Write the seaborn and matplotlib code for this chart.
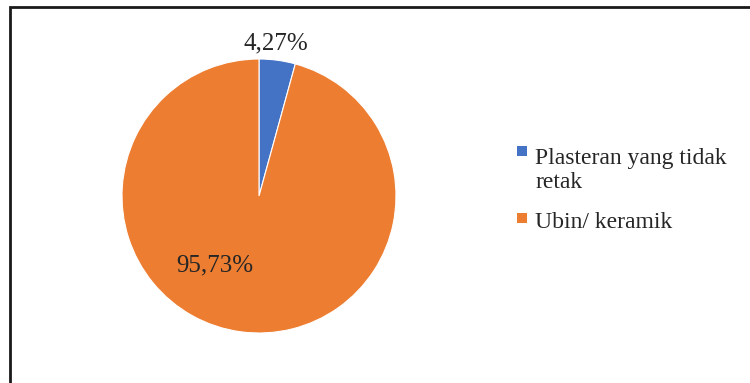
import matplotlib
matplotlib.use("Agg")
import matplotlib.pyplot as plt
import seaborn as sns
from matplotlib.patches import Rectangle

# Jenis lantai
categories = ["Plasteran yang tidak\nretak", "Ubin/ keramik"]
values = [4.27, 95.73]
colors = ["#4472C4", "#ED7D31"]

sns.set_theme(style="white")
plt.rcParams["font.family"] = ["Liberation Serif", "DejaVu Serif"]

W, H = 750, 383
fig = plt.figure(figsize=(W / 100, H / 100), dpi=100)
fig.patch.set_facecolor("white")


def px(x, y):
    """pixel coords (origin top-left) -> figure fraction"""
    return x / W, 1 - y / H


# chart border (runs off the right and bottom edges)
x0, y0 = px(10, 7)
fig.patches.append(Rectangle((x0, -0.1), 1.2, y0 + 0.1, transform=fig.transFigure,
                             fill=False, edgecolor="#1a1a1a", linewidth=2.0,
                             clip_on=False))

# pie axes: centre (259, 196), radius 137 px
cx, cy, r = 259, 196, 137
ax = fig.add_axes([(cx - r) / W, (H - cy - r) / H, 2 * r / W, 2 * r / H])
wedges, _ = ax.pie(values, colors=colors, startangle=90, counterclock=False,
                   radius=1, wedgeprops=dict(linewidth=0.8, edgecolor="white"))
ax.set_xlim(-1, 1)
ax.set_ylim(-1, 1)
ax.set_aspect("equal")
ax.axis("off")

# value labels
label_pos = [(0.12, 1.115), (-0.32, -0.51)]
for v, (lx, ly) in zip(values, label_pos):
    ax.text(lx, ly, f"{v:.2f}%".replace(".", ","), ha="center", va="center",
            fontsize=18, color="#262626", clip_on=False)

# legend (marker sits beside the first line of each label)
fs = 17
line_px = 1.2 * fs * 100 / 72
leg_items = [(151, 160), (218, 228)]
for cat, col, (sq_y, base_y) in zip(categories, colors, leg_items):
    sx, sy = px(517, sq_y + 5)
    fig.patches.append(Rectangle((sx, sy), 10 / W, 10 / H, transform=fig.transFigure,
                                 facecolor=col, edgecolor="none"))
    n_lines = cat.count("\n") + 1
    tx, ty = px(535, base_y + (n_lines - 1) * line_px)
    fig.text(tx, ty, cat, ha="left", va="baseline", fontsize=fs,
             color="#262626", linespacing=1.2)

fig.savefig("out.png", dpi=100)
